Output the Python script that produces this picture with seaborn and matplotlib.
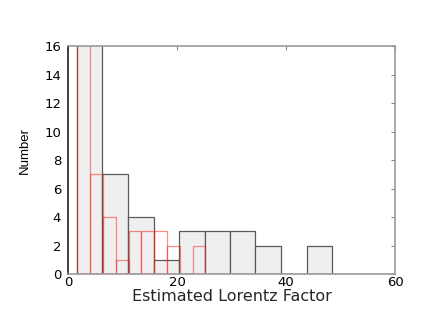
import numpy as np
import pandas as pd
import seaborn as sns
import matplotlib.pyplot as plt

# histogram bins (10 bins each)
all_edges = [1.6, 6.3, 11.0, 15.7, 20.4, 25.1, 29.7, 34.4, 39.1, 43.8, 48.5]
all_counts = [21, 7, 4, 1, 3, 3, 3, 2, 0, 2]
sub_edges = [1.7, 4.05, 6.4, 8.75, 11.1, 13.45, 15.8, 18.15, 20.5, 22.85, 25.2]
sub_counts = [21, 7, 4, 1, 3, 3, 3, 2, 0, 2]

x_ticks = [0, 20, 40, 60]
y_ticks = [0, 2, 4, 6, 8, 10, 12, 14, 16]


def centers(edges):
    e = np.array(edges)
    return (e[:-1] + e[1:]) / 2


sns.set_style("white")
plt.rcParams['font.family'] = ['DejaVu Sans']
plt.rcParams['text.color'] = 'black'
plt.rcParams['xtick.color'] = 'black'
plt.rcParams['ytick.color'] = 'black'

fig = plt.figure(figsize=(4.36, 3.27), dpi=100)
ax = fig.add_axes([0.156, 0.162, 0.75, 0.697])

df_all = pd.DataFrame({"x": centers(all_edges), "n": all_counts})
df_sub = pd.DataFrame({"x": centers(sub_edges), "n": sub_counts})

sns.histplot(data=df_all, x="x", weights="n", bins=all_edges, ax=ax,
             color="#efefef", edgecolor="#5a5a5a", linewidth=0.9, alpha=1)
sns.histplot(data=df_sub, x="x", weights="n", bins=sub_edges, ax=ax,
             fill=False, element="bars", color="#ff1a1a", linewidth=0.9,
             alpha=0.5)

ax.set_xlim(0, 60)
ax.set_ylim(0, 16)
ax.set_xticks(x_ticks)
ax.set_yticks(y_ticks)
ax.tick_params(direction="in", top=True, right=True, length=3,
               labelsize=9.5, color="#888888")
ax.tick_params(axis="x", pad=1.5)
ax.tick_params(axis="y", pad=5)
for side, s in ax.spines.items():
    s.set_color("#999999")
    s.set_linewidth(1.2)
ax.spines["left"].set_color("#222222")

ax.set_xlabel("Estimated Lorentz Factor", fontsize=11.5, labelpad=0)
ax.set_ylabel("")
fig.text(0.058, 0.54, "Number", rotation=90, ha="center", va="center",
         fontsize=9.5, family=["Liberation Sans Narrow", "Liberation Sans"])

plt.savefig("out.png", dpi=100)
plt.close()
